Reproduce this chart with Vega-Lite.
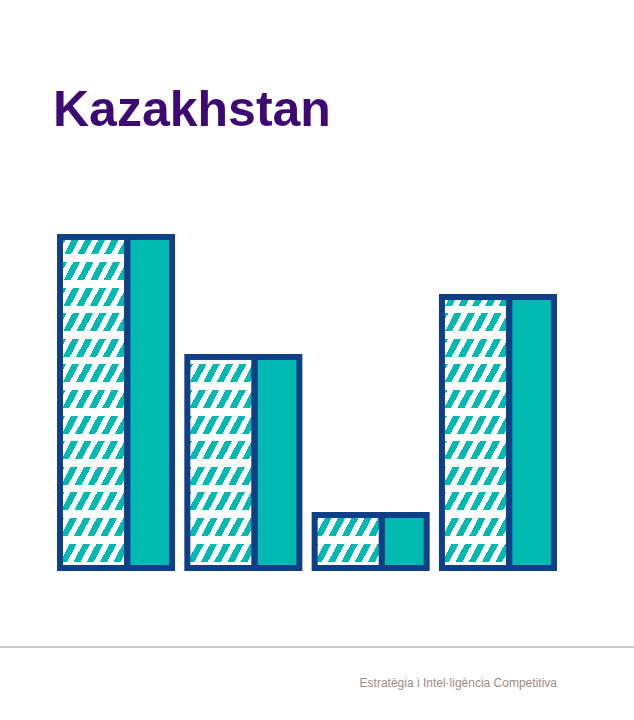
{
  "$schema": "https://vega.github.io/schema/vega-lite/v6.json",
  "width": 634,
  "height": 574,
  "autosize": "none",
  "padding": {"left": 0, "top": 146, "right": 0, "bottom": 0},
  "background": "white",
  "config": {"view": {"stroke": null}},
  "title": {
    "text": "Kazakhstan",
    "anchor": "start",
    "frame": "group",
    "font": "Liberation Sans",
    "fontSize": 50,
    "fontWeight": "bold",
    "color": "#3d0a74",
    "offset": 10,
    "dx": 53
  },
  "data": {
    "values": [
      {"group": "G1", "value": 331},
      {"group": "G2", "value": 211},
      {"group": "G3", "value": 53},
      {"group": "G4", "value": 271}
    ]
  },
  "layer": [
    {
      "mark": {
        "type": "rect",
        "fill": {
          "gradient": "linear",
          "x1": 0, "y1": 0, "x2": 0.4605, "y2": 1.2060,
          "stops": [
            {"offset": 0, "color": "#00b9b1"}, {"offset": 0.0284, "color": "#00b9b1"}, {"offset": 0.0284, "color": "#ffffff"}, {"offset": 0.0547, "color": "#ffffff"},
            {"offset": 0.0547, "color": "#00b9b1"}, {"offset": 0.0831, "color": "#00b9b1"}, {"offset": 0.0831, "color": "#ffffff"}, {"offset": 0.1094, "color": "#ffffff"},
            {"offset": 0.1094, "color": "#00b9b1"}, {"offset": 0.1378, "color": "#00b9b1"}, {"offset": 0.1378, "color": "#ffffff"}, {"offset": 0.1641, "color": "#ffffff"},
            {"offset": 0.1641, "color": "#00b9b1"}, {"offset": 0.1925, "color": "#00b9b1"}, {"offset": 0.1925, "color": "#ffffff"}, {"offset": 0.2188, "color": "#ffffff"},
            {"offset": 0.2188, "color": "#00b9b1"}, {"offset": 0.2472, "color": "#00b9b1"}, {"offset": 0.2472, "color": "#ffffff"}, {"offset": 0.2735, "color": "#ffffff"},
            {"offset": 0.2735, "color": "#00b9b1"}, {"offset": 0.3019, "color": "#00b9b1"}, {"offset": 0.3019, "color": "#ffffff"}, {"offset": 0.3281, "color": "#ffffff"},
            {"offset": 0.3281, "color": "#00b9b1"}, {"offset": 0.3565, "color": "#00b9b1"}, {"offset": 0.3565, "color": "#ffffff"}, {"offset": 0.3828, "color": "#ffffff"},
            {"offset": 0.3828, "color": "#00b9b1"}, {"offset": 0.4112, "color": "#00b9b1"}, {"offset": 0.4112, "color": "#ffffff"}, {"offset": 0.4375, "color": "#ffffff"},
            {"offset": 0.4375, "color": "#00b9b1"}, {"offset": 0.4659, "color": "#00b9b1"}, {"offset": 0.4659, "color": "#ffffff"}, {"offset": 0.4922, "color": "#ffffff"},
            {"offset": 0.4922, "color": "#00b9b1"}, {"offset": 0.5206, "color": "#00b9b1"}, {"offset": 0.5206, "color": "#ffffff"}, {"offset": 0.5469, "color": "#ffffff"},
            {"offset": 0.5469, "color": "#00b9b1"}, {"offset": 0.5753, "color": "#00b9b1"}, {"offset": 0.5753, "color": "#ffffff"}, {"offset": 0.6016, "color": "#ffffff"},
            {"offset": 0.6016, "color": "#00b9b1"}, {"offset": 0.6300, "color": "#00b9b1"}, {"offset": 0.6300, "color": "#ffffff"}, {"offset": 0.6563, "color": "#ffffff"},
            {"offset": 0.6563, "color": "#00b9b1"}, {"offset": 0.6847, "color": "#00b9b1"}, {"offset": 0.6847, "color": "#ffffff"}, {"offset": 0.7110, "color": "#ffffff"},
            {"offset": 0.7110, "color": "#00b9b1"}, {"offset": 0.7394, "color": "#00b9b1"}, {"offset": 0.7394, "color": "#ffffff"}, {"offset": 0.7657, "color": "#ffffff"},
            {"offset": 0.7657, "color": "#00b9b1"}, {"offset": 0.7941, "color": "#00b9b1"}, {"offset": 0.7941, "color": "#ffffff"}, {"offset": 0.8204, "color": "#ffffff"},
            {"offset": 0.8204, "color": "#00b9b1"}, {"offset": 0.8488, "color": "#00b9b1"}, {"offset": 0.8488, "color": "#ffffff"}, {"offset": 0.8750, "color": "#ffffff"},
            {"offset": 0.8750, "color": "#00b9b1"}, {"offset": 0.9034, "color": "#00b9b1"}, {"offset": 0.9034, "color": "#ffffff"}, {"offset": 0.9297, "color": "#ffffff"},
            {"offset": 0.9297, "color": "#00b9b1"}, {"offset": 0.9581, "color": "#00b9b1"}, {"offset": 0.9581, "color": "#ffffff"}, {"offset": 0.9844, "color": "#ffffff"},
            {"offset": 0.9844, "color": "#00b9b1"}, {"offset": 1, "color": "#00b9b1"}
          ]
        }
      },
      "encoding": {
        "x": {
          "field": "group",
          "type": "nominal",
          "bandPosition": 0,
          "axis": null,
          "scale": {
            "domain": ["G1", "G2", "G3", "G4"],
            "paddingInner": 0.12,
            "paddingOuter": 0.55,
            "align": 0.4286
          }
        },
        "x2": {"field": "group", "bandPosition": 0.6},
        "y": {
          "datum": 331,
          "type": "quantitative",
          "axis": null,
          "scale": {"domain": [-152, 422], "nice": false, "zero": false}
        },
        "y2": {"datum": 0}
      }
    },
    {
      "mark": {
        "type": "rect",
        "fill": {
          "gradient": "linear",
          "x1": 0, "y1": 0, "x2": 0, "y2": 1,
          "stops": [
            {"offset": 0, "color": "rgba(255,255,255,0)"},
            {"offset": 0.0526, "color": "rgba(255,255,255,0)"}, {"offset": 0.0526, "color": "#ffffff"}, {"offset": 0.0755, "color": "#ffffff"}, {"offset": 0.0755, "color": "rgba(255,255,255,0)"},
            {"offset": 0.1299, "color": "rgba(255,255,255,0)"}, {"offset": 0.1299, "color": "#ffffff"}, {"offset": 0.1529, "color": "#ffffff"}, {"offset": 0.1529, "color": "rgba(255,255,255,0)"},
            {"offset": 0.2073, "color": "rgba(255,255,255,0)"}, {"offset": 0.2073, "color": "#ffffff"}, {"offset": 0.2302, "color": "#ffffff"}, {"offset": 0.2302, "color": "rgba(255,255,255,0)"},
            {"offset": 0.2846, "color": "rgba(255,255,255,0)"}, {"offset": 0.2846, "color": "#ffffff"}, {"offset": 0.3076, "color": "#ffffff"}, {"offset": 0.3076, "color": "rgba(255,255,255,0)"},
            {"offset": 0.3619, "color": "rgba(255,255,255,0)"}, {"offset": 0.3619, "color": "#ffffff"}, {"offset": 0.3849, "color": "#ffffff"}, {"offset": 0.3849, "color": "rgba(255,255,255,0)"},
            {"offset": 0.4393, "color": "rgba(255,255,255,0)"}, {"offset": 0.4393, "color": "#ffffff"}, {"offset": 0.4622, "color": "#ffffff"}, {"offset": 0.4622, "color": "rgba(255,255,255,0)"},
            {"offset": 0.5166, "color": "rgba(255,255,255,0)"}, {"offset": 0.5166, "color": "#ffffff"}, {"offset": 0.5396, "color": "#ffffff"}, {"offset": 0.5396, "color": "rgba(255,255,255,0)"},
            {"offset": 0.5940, "color": "rgba(255,255,255,0)"}, {"offset": 0.5940, "color": "#ffffff"}, {"offset": 0.6169, "color": "#ffffff"}, {"offset": 0.6169, "color": "rgba(255,255,255,0)"},
            {"offset": 0.6713, "color": "rgba(255,255,255,0)"}, {"offset": 0.6713, "color": "#ffffff"}, {"offset": 0.6943, "color": "#ffffff"}, {"offset": 0.6943, "color": "rgba(255,255,255,0)"},
            {"offset": 0.7486, "color": "rgba(255,255,255,0)"}, {"offset": 0.7486, "color": "#ffffff"}, {"offset": 0.7716, "color": "#ffffff"}, {"offset": 0.7716, "color": "rgba(255,255,255,0)"},
            {"offset": 0.8260, "color": "rgba(255,255,255,0)"}, {"offset": 0.8260, "color": "#ffffff"}, {"offset": 0.8489, "color": "#ffffff"}, {"offset": 0.8489, "color": "rgba(255,255,255,0)"},
            {"offset": 0.9033, "color": "rgba(255,255,255,0)"}, {"offset": 0.9033, "color": "#ffffff"}, {"offset": 0.9263, "color": "#ffffff"}, {"offset": 0.9263, "color": "rgba(255,255,255,0)"},
            {"offset": 0.9807, "color": "rgba(255,255,255,0)"}, {"offset": 0.9807, "color": "#ffffff"}, {"offset": 1, "color": "#ffffff"}
          ]
        }
      },
      "encoding": {
        "x": {"field": "group", "type": "nominal", "bandPosition": 0},
        "x2": {"field": "group", "bandPosition": 0.6},
        "y": {"datum": 331, "type": "quantitative"},
        "y2": {"datum": 0}
      }
    },
    {
      "mark": {"type": "rect", "fill": "#ffffff", "stroke": "#ffffff", "strokeWidth": 3},
      "encoding": {
        "x": {"field": "group", "type": "nominal", "bandPosition": 0},
        "x2": {"field": "group", "bandPosition": 0.6},
        "y": {"field": "value", "type": "quantitative"},
        "y2": {"datum": 331}
      }
    },
    {
      "mark": {"type": "rect", "fill": "#00b9b1", "stroke": "#0f3f87", "strokeWidth": 6},
      "encoding": {
        "x": {"field": "group", "type": "nominal", "bandPosition": 0.6},
        "x2": {"field": "group", "bandPosition": 1},
        "y": {"field": "value", "type": "quantitative"},
        "y2": {"datum": 0}
      }
    },
    {
      "mark": {"type": "rect", "fill": "#ffffff", "fillOpacity": 0, "stroke": "#0f3f87", "strokeWidth": 6},
      "encoding": {
        "x": {"field": "group", "type": "nominal", "bandPosition": 0},
        "x2": {"field": "group", "bandPosition": 0.6},
        "y": {"field": "value", "type": "quantitative"},
        "y2": {"datum": 0}
      }
    },
    {
      "data": {"values": [{"label": "Estratègia i Intel·ligència Competitiva"}]},
      "mark": {"type": "rule", "color": "#a0948f", "strokeWidth": 1},
      "encoding": {
        "y": {"datum": -79, "type": "quantitative"}
      }
    },
    {
      "data": {"values": [{"label": "Estratègia i Intel·ligència Competitiva"}]},
      "mark": {
        "type": "text",
        "font": "Liberation Sans",
        "fontSize": 12,
        "color": "#9c8b84",
        "align": "right",
        "baseline": "alphabetic",
        "dx": 3
      },
      "encoding": {
        "x": {"datum": "G4", "type": "nominal", "bandPosition": 1},
        "y": {"datum": -119, "type": "quantitative"},
        "text": {"field": "label"}
      }
    }
  ]
}
